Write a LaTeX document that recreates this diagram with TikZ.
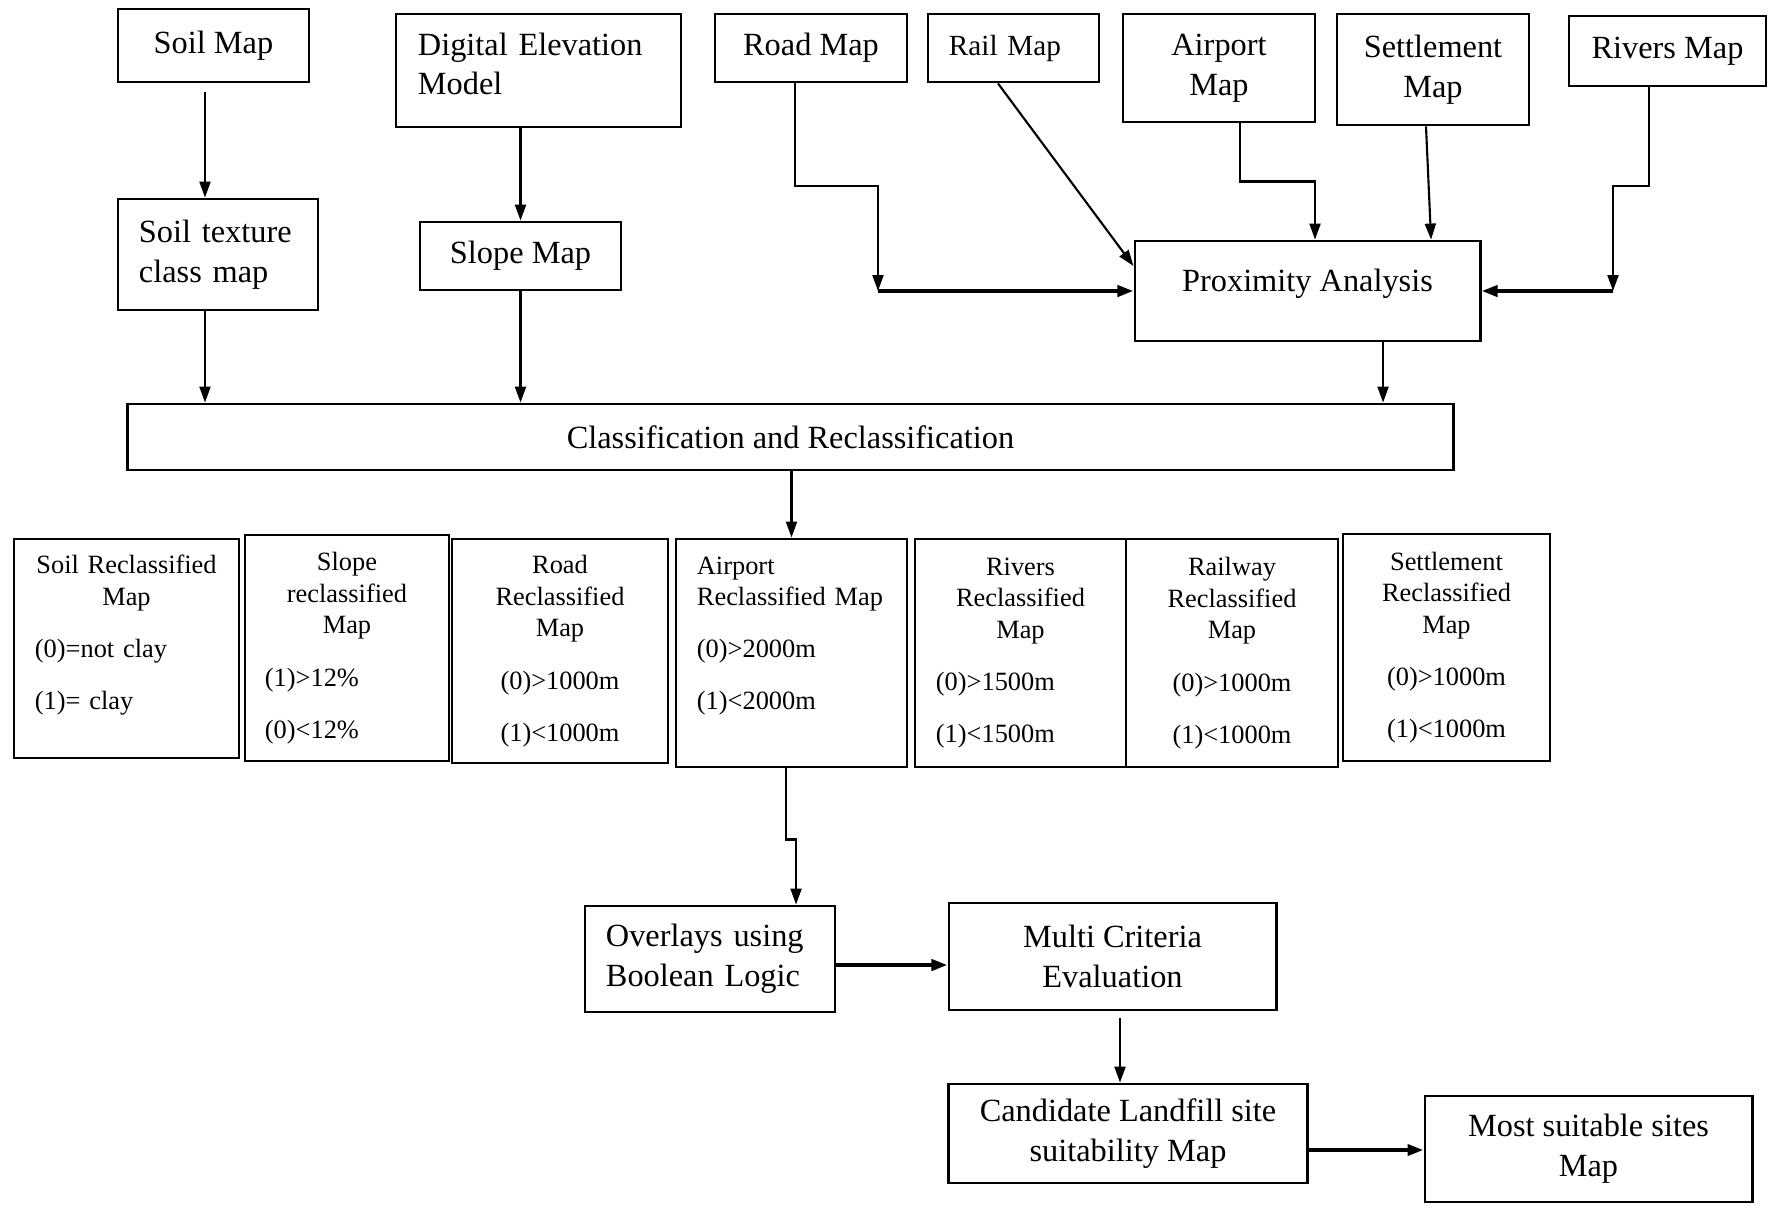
\documentclass[tikz,border=0pt]{standalone}
\usepackage{fontspec}
\setmainfont{Liberation Serif}
\usepackage{tikz}
\usetikzlibrary{arrows.meta}
\newcommand{\boxfont}{\fontsize{9.2}{11.3}\selectfont}
\newcommand{\reclassfont}{\fontsize{7.5}{9}\selectfont}
\newcommand{\midline}[1]{\makebox[\hsize][c]{#1}}
\newcommand{\downstrut}[1]{\rule[-#1]{0pt}{#1}}
\tikzset{
  mapbox/.style={
    rectangle,
    draw=black,
    line width=0.8pt,
    inner sep=0pt,
    align=center,
    font=\boxfont
  },
  mapleft/.style={mapbox, align=left},
  reclassbox/.style={mapbox, font=\reclassfont},
  maparrow/.style={-{Triangle[length=1.6mm,width=1.1mm]}, line width=0.6pt, draw=black},
  maparrowbold/.style={maparrow, line width=1.1pt}
}
\begin{document}
\begin{tikzpicture}[x=0.01cm, y=-0.01cm]
\useasboundingbox (0,0) rectangle (1775,1205);
% input maps
\node[mapbox, minimum width=1.91cm, minimum height=0.73cm] (soil) at (213.5,45.5) {Soil Map};
\node[mapleft, text width=2.41cm, minimum width=2.85cm, minimum height=1.13cm] (dem) at (538.5,70.5) {Digital Elevation\\Model\downstrut{3.9pt}};
\node[mapbox, minimum width=1.92cm, minimum height=0.68cm] (road) at (811,48) {Road Map};
\node[mapleft, font=\fontsize{8.3}{10}\selectfont, text width=1.29cm, minimum width=1.71cm, minimum height=0.68cm] (rail) at (1013.5,48) {Rail Map};
\node[mapbox, minimum width=1.92cm, minimum height=1.08cm] (airport) at (1219,68) {Airport\\Map};
\node[mapbox, minimum width=1.92cm, minimum height=1.11cm] (settle) at (1433,69.5) {Settlement\\Map};
\node[mapbox, minimum width=1.97cm, minimum height=0.70cm] (rivers) at (1667.5,51) {Rivers Map};
\node[mapleft, text width=1.58cm, minimum width=2.00cm, minimum height=1.11cm] (texture) at (218,254.5) {Soil texture\\class map};
\node[mapbox, minimum width=2.01cm, minimum height=0.68cm] (slope) at (520.5,256) {Slope Map};
\node[mapbox, text depth=6pt, minimum width=3.45cm, minimum height=1.00cm] (prox) at (1307.5,291) {Proximity Analysis};
\node[mapbox, minimum width=13.25cm, minimum height=0.66cm] (classif) at (790.5,437) {Classification and Reclassification};
% reclassified maps
\node[reclassbox, align=left, text width=1.83cm, minimum width=2.25cm, minimum height=2.19cm] (rsoil) at (126.5,648.5)
  {\midline{Soil Reclassified}\\\midline{Map}\\[5.8pt](0)=not clay\\[5.8pt](1)= clay\downstrut{9.3pt}};
\node[reclassbox, align=left, text width=1.64cm, minimum width=2.04cm, minimum height=2.26cm] (rslope) at (347,648)
  {\midline{Slope}\\\midline{reclassified}\\\midline{Map}\\[5.8pt](1)>12\%\\[5.8pt](0)<12\%};
\node[reclassbox, text width=1.76cm, minimum width=2.16cm, minimum height=2.24cm] (rroad) at (560,651)
  {Road\\Reclassified\\Map\\[5.8pt](0)>1000m\\[5.8pt](1)<1000m};
\node[reclassbox, align=left, text width=1.89cm, minimum width=2.31cm, minimum height=2.28cm] (rair) at (791.5,653)
  {Airport\\Reclassified Map\\[5.8pt](0)>2000m\\[5.8pt](1)<2000m\downstrut{11.3pt}};
\node[reclassbox, align=left, text width=1.69cm, minimum width=2.11cm, minimum height=2.28cm] (rriv) at (1020.5,653)
  {\midline{Rivers}\\\midline{Reclassified}\\\midline{Map}\\[5.8pt](0)>1500m\\[5.8pt](1)<1500m};
\node[reclassbox, text width=1.72cm, minimum width=2.12cm, minimum height=2.28cm] (rrail) at (1232,653)
  {Railway\\Reclassified\\Map\\[5.8pt](0)>1000m\\[5.8pt](1)<1000m};
\node[reclassbox, text width=1.67cm, minimum width=2.07cm, minimum height=2.27cm] (rset) at (1446.5,647.5)
  {Settlement\\Reclassified\\Map\\[5.8pt](0)>1000m\\[5.8pt](1)<1000m};
% analysis and results
\node[mapleft, text width=2.08cm, minimum width=2.50cm, minimum height=1.06cm] (overlay) at (710,959) {Overlays using\\Boolean Logic};
\node[mapbox, minimum width=3.27cm, minimum height=1.07cm] (mce) at (1112.5,956.5) {Multi Criteria\\Evaluation};
\node[mapbox, minimum width=3.58cm, minimum height=0.99cm] (cand) at (1128,1133.5) {Candidate Landfill site\\suitability Map};
\node[mapbox, minimum width=3.27cm, minimum height=1.06cm] (best) at (1588.5,1149) {Most suitable sites\\Map};
\coordinate (roadjoin) at (878,291);
\coordinate (rivjoin) at (1613,291);
% connectors
\draw[maparrow, shorten <=0.9mm] ([xshift=-0.85mm]soil.south) -- ([xshift=-0.85mm]soil.south |- texture.north);
\draw[maparrow] (dem.south -| slope.north) -- (slope.north);
\draw[maparrow] ([xshift=-1.3mm]texture.south) -- ([xshift=-1.3mm]texture.south |- classif.north);
\draw[maparrow] (slope.south) -- (slope.south |- classif.north);
\draw[maparrow] ([xshift=-1.6mm]road.south) -- ++(0,103) -| (roadjoin);
\draw[maparrowbold] (roadjoin) -- (prox.west);
\draw[maparrow] ([xshift=-1.55mm]rail.south) -- ([yshift=2.5mm]prox.west);
\draw[maparrow] ([xshift=2.1mm]airport.south) -- ++(0,58) -| ([xshift=0.75mm]prox.north);
\draw[maparrow] ([xshift=-0.7mm]settle.south) -- ([xshift=12.35mm]prox.north);
\draw[maparrow] ([xshift=-1.85mm]rivers.south) -- ++(0,99) -| (rivjoin);
\draw[maparrowbold] (rivjoin) -- (prox.east);
\draw[maparrow] ([xshift=7.55mm]prox.south) -- ([xshift=7.55mm]prox.south |- classif.north);
\draw[maparrow] (classif.south -| rair.north) -- (rair.north);
\draw[maparrow] ([xshift=-0.55mm]rair.south) -- ++(0,71) -| ([xshift=8.6mm]overlay.north);
\draw[maparrowbold] ([yshift=-0.6mm]overlay.east) -- ([yshift=-0.6mm]overlay.east -| mce.west);
\draw[maparrow, shorten <=0.7mm] ([xshift=0.75mm]mce.south) -- ([xshift=0.75mm]mce.south |- cand.north);
\draw[maparrowbold] ([yshift=-1.65mm]cand.east) -- ([yshift=-1.65mm]cand.east -| best.west);
\end{tikzpicture}
\end{document}
